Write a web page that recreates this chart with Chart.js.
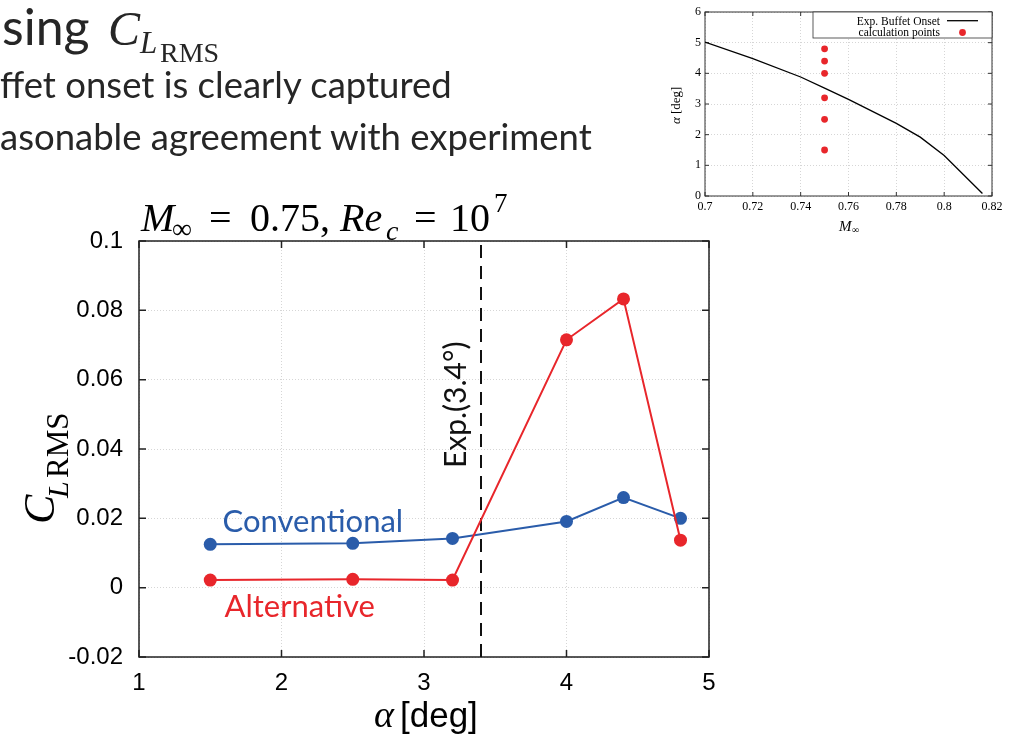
<!DOCTYPE html>
<html>
<head>
<meta charset="utf-8">
<script src="https://cdn.jsdelivr.net/npm/chart.js@4.4.0/dist/chart.umd.min.js"></script>
<style>
  html, body { margin: 0; padding: 0; background: #fff; }
  body { width: 1011px; height: 738px; position: relative; overflow: hidden; }
  #overlay { position: absolute; left: 0; top: 0; pointer-events: none; }
  #mainChart { position: absolute; left: 0; top: 190px; }
  #insetChart { position: absolute; left: 670px; top: 0; }
</style>
</head>
<body>
<canvas id="mainChart" width="740" height="548"></canvas>
<canvas id="insetChart" width="341" height="235"></canvas>

<svg id="overlay" width="1011" height="738">
  <!-- slide heading and bullets -->
  <g font-family="Lato" fill="#262626">
    <text x="2" y="45" font-size="50">sing</text>
    <text x="0" y="98" font-size="36.5">ffet onset is clearly captured</text>
    <text x="0" y="150" font-size="36.5">asonable agreement with experiment</text>
  </g>
  <g font-family="Liberation Serif" fill="#262626">
    <text x="108" y="45" font-size="48" font-style="italic">C</text>
    <text x="140" y="53" font-size="31" font-style="italic">L</text>
    <text x="160" y="62" font-size="28">RMS</text>
  </g>

  <!-- main chart title -->
  <g font-family="Liberation Serif" font-size="40" fill="#000">
    <text x="141" y="231" font-style="italic">M</text>
    <text x="172" y="238" font-size="28">∞</text>
    <text x="209" y="231">=</text>
    <text x="250" y="231">0.75,</text>
    <text x="340" y="231" font-style="italic">Re</text>
    <text x="386" y="240" font-size="28" font-style="italic">c</text>
    <text x="414" y="231">=</text>
    <text x="450" y="231">10</text>
    <text x="494" y="212" font-size="27">7</text>
  </g>

  <!-- main axis titles -->
  <g transform="translate(54,524) rotate(-90)" font-family="Liberation Serif" fill="#000">
    <text x="0" y="0" font-size="44" font-style="italic">C</text>
    <text x="26" y="14" font-size="30" font-style="italic">L</text>
    <text x="46" y="14" font-size="31">RMS</text>
  </g>
  <g fill="#000">
    <text x="374" y="727" font-family="Liberation Serif" font-style="italic" font-size="38">α</text>
    <text x="400" y="727" font-family="Liberation Sans" font-size="35">[deg]</text>
  </g>

  <!-- inset axis titles -->
  <g transform="translate(680,124) rotate(-90)" font-family="Liberation Serif" font-size="13" fill="#000">
    <text x="0" y="0" font-style="italic">α</text>
    <text x="10" y="0">[deg]</text>
  </g>
  <g font-family="Liberation Serif" fill="#000">
    <text x="839" y="231" font-size="15" font-style="italic">M</text>
    <text x="852" y="233" font-size="10">∞</text>
  </g>
</svg>

<script>
// angle of attack sweep and RMS lift coefficient at M = 0.75
const alphaDeg = [1.5, 2.5, 3.2, 4.0, 4.4, 4.8];
const clRmsConventional = [0.0125, 0.0128, 0.0142, 0.0191, 0.0260, 0.0200];
const clRmsAlternative = [0.0022, 0.0024, 0.0022, 0.0715, 0.0833, 0.0137];
const expOnsetAlpha = 3.4;

const alphaTicks = [1, 2, 3, 4, 5];
const clTicks = [-0.02, 0, 0.02, 0.04, 0.06, 0.08, 0.1];

// experimental buffet onset boundary (Mach vs alpha)
const onsetMach = [0.70, 0.72, 0.74, 0.75, 0.76, 0.78, 0.79, 0.80, 0.816];
const onsetAlpha = [5.02, 4.48, 3.88, 3.52, 3.15, 2.37, 1.92, 1.32, 0.08];
const calcMach = 0.75;
const machTicks = [0.7, 0.72, 0.74, 0.76, 0.78, 0.8, 0.82];
const insetAlphaTicks = [0, 1, 2, 3, 4, 5, 6];

const BLUE = '#2a5caa';
const RED = '#e8262b';

const pairs = (xs, ys) => xs.map((x, i) => ({x, y: ys[i]}));

// closed box around the plot area with inward tick marks on all sides
const plotFrame = {
  id: 'plotFrame',
  beforeDatasetsDraw(chart, args, opts) {
    const {ctx, chartArea: a, scales} = chart;
    const len = opts.tickLength;
    ctx.save();
    ctx.strokeStyle = opts.color;
    ctx.lineWidth = opts.width;
    ctx.beginPath();
    scales.y.ticks.forEach(t => {
      const py = scales.y.getPixelForValue(t.value);
      ctx.moveTo(a.left, py); ctx.lineTo(a.left + len, py);
      ctx.moveTo(a.right, py); ctx.lineTo(a.right - len, py);
    });
    scales.x.ticks.forEach(t => {
      const px = scales.x.getPixelForValue(t.value);
      ctx.moveTo(px, a.bottom); ctx.lineTo(px, a.bottom - len);
      ctx.moveTo(px, a.top); ctx.lineTo(px, a.top + len);
    });
    ctx.stroke();
    ctx.strokeRect(a.left, a.top, a.right - a.left, a.bottom - a.top);
    ctx.restore();
  }
};

// free text labels placed in data coordinates
const noteLabels = {
  id: 'noteLabels',
  afterDatasetsDraw(chart, args, opts) {
    const {ctx, scales} = chart;
    (opts.items || []).forEach(it => {
      const px = scales.x.getPixelForValue(it.x);
      const py = scales.y.getPixelForValue(it.y);
      ctx.save();
      ctx.translate(px, py);
      if (it.rotate) ctx.rotate(it.rotate);
      ctx.font = it.font;
      ctx.fillStyle = it.color;
      ctx.textAlign = 'left';
      ctx.textBaseline = 'alphabetic';
      ctx.fillText(it.text, 0, 0);
      ctx.restore();
    });
  }
};

// boxed legend in the upper right corner of the inset
const boxLegend = {
  id: 'boxLegend',
  afterDatasetsDraw(chart) {
    const {ctx, chartArea: a, data} = chart;
    const left = a.left + 108, top = a.top, right = a.right, bottom = a.top + 26;
    ctx.save();
    ctx.fillStyle = '#fff';
    ctx.fillRect(left, top, right - left, bottom - top);
    ctx.strokeStyle = '#333';
    ctx.lineWidth = 0.8;
    ctx.strokeRect(left, top, right - left, bottom - top);
    ctx.font = '11.5px "Liberation Serif"';
    ctx.fillStyle = '#000';
    ctx.textAlign = 'right';
    ctx.textBaseline = 'alphabetic';
    ctx.fillText(data.datasets[0].label, right - 52, top + 13);
    ctx.fillText(data.datasets[1].label, right - 52, top + 23.5);
    ctx.strokeStyle = '#000';
    ctx.lineWidth = 1.3;
    ctx.beginPath();
    ctx.moveTo(right - 45, top + 8.7);
    ctx.lineTo(right - 14, top + 8.7);
    ctx.stroke();
    ctx.fillStyle = RED;
    ctx.beginPath();
    ctx.arc(right - 29.5, top + 20.5, 3.4, 0, Math.PI * 2);
    ctx.fill();
    ctx.restore();
  }
};

const gridStyle = {color: '#d6d6d6', lineWidth: 1, drawTicks: false};

new Chart(document.getElementById('mainChart'), {
  type: 'line',
  data: {
    datasets: [
      {
        label: 'Alternative',
        data: pairs(alphaDeg, clRmsAlternative),
        borderColor: RED,
        backgroundColor: RED,
        borderWidth: 2,
        pointRadius: 6.5,
        pointBorderWidth: 0,
        pointBackgroundColor: RED
      },
      {
        label: 'Conventional',
        data: pairs(alphaDeg, clRmsConventional),
        borderColor: BLUE,
        backgroundColor: BLUE,
        borderWidth: 2,
        pointRadius: 6.5,
        pointBorderWidth: 0,
        pointBackgroundColor: BLUE
      },
      {
        label: 'Exp. onset',
        data: [{x: expOnsetAlpha, y: clTicks[0]}, {x: expOnsetAlpha, y: clTicks[clTicks.length - 1]}],
        borderColor: '#111',
        borderWidth: 2,
        borderDash: [13, 8],
        pointRadius: 0
      }
    ]
  },
  options: {
    responsive: false,
    animation: false,
    layout: {padding: {left: 0, right: 31, top: 51, bottom: 0}},
    plugins: {
      legend: {display: false},
      tooltip: {enabled: false},
      plotFrame: {color: '#222', width: 1.5, tickLength: 7},
      noteLabels: {
        items: [
          {text: 'Conventional', x: 1.586, y: 0.0161, color: BLUE, font: '31px Lato'},
          {text: 'Alternative', x: 1.60, y: -0.0085, color: RED, font: '31px Lato'},
          {text: 'Exp.(3.4°)', x: 3.293, y: 0.0345, color: '#111', font: '30px Lato', rotate: -Math.PI / 2}
        ]
      }
    },
    scales: {
      x: {
        type: 'linear',
        min: alphaTicks[0],
        max: alphaTicks[alphaTicks.length - 1],
        afterBuildTicks: s => { s.ticks = alphaTicks.map(v => ({value: v})); },
        afterFit: s => { s.height = 81; },
        ticks: {color: '#000', font: {family: 'Liberation Sans', size: 24}, padding: 12, callback: v => String(v)},
        grid: gridStyle,
        border: {display: false, dash: [1, 2]}
      },
      y: {
        type: 'linear',
        min: clTicks[0],
        max: clTicks[clTicks.length - 1],
        afterBuildTicks: s => { s.ticks = clTicks.map(v => ({value: v})); },
        afterFit: s => { s.width = 139; },
        ticks: {color: '#000', font: {family: 'Liberation Sans', size: 24}, padding: 16, callback: v => String(v)},
        grid: gridStyle,
        border: {display: false, dash: [1, 2]}
      }
    }
  },
  plugins: [plotFrame, noteLabels]
});

new Chart(document.getElementById('insetChart'), {
  type: 'line',
  data: {
    datasets: [
      {
        label: 'Exp. Buffet Onset',
        data: pairs(onsetMach, onsetAlpha),
        borderColor: '#000',
        borderWidth: 1.3,
        pointRadius: 0
      },
      {
        label: 'calculation points',
        data: alphaDeg.map(a => ({x: calcMach, y: a})),
        showLine: false,
        pointRadius: 3.4,
        pointBorderWidth: 0,
        pointBackgroundColor: RED,
        borderColor: RED
      }
    ]
  },
  options: {
    responsive: false,
    animation: false,
    layout: {padding: {left: 0, right: 19, top: 12, bottom: 0}},
    plugins: {
      legend: {display: false},
      tooltip: {enabled: false},
      plotFrame: {color: '#333', width: 1, tickLength: 4}
    },
    scales: {
      x: {
        type: 'linear',
        min: machTicks[0],
        max: machTicks[machTicks.length - 1],
        afterBuildTicks: s => { s.ticks = machTicks.map(v => ({value: v})); },
        afterFit: s => { s.height = 39; },
        ticks: {color: '#000', font: {family: 'Liberation Serif', size: 12}, padding: 4, callback: v => String(v)},
        grid: gridStyle,
        border: {display: false, dash: [1, 2]}
      },
      y: {
        type: 'linear',
        min: insetAlphaTicks[0],
        max: insetAlphaTicks[insetAlphaTicks.length - 1],
        afterBuildTicks: s => { s.ticks = insetAlphaTicks.map(v => ({value: v})); },
        afterFit: s => { s.width = 35; },
        ticks: {color: '#000', font: {family: 'Liberation Serif', size: 12}, padding: 4, callback: v => String(v)},
        grid: gridStyle,
        border: {display: false, dash: [1, 2]}
      }
    }
  },
  plugins: [plotFrame, boxLegend]
});
</script>
</body>
</html>
